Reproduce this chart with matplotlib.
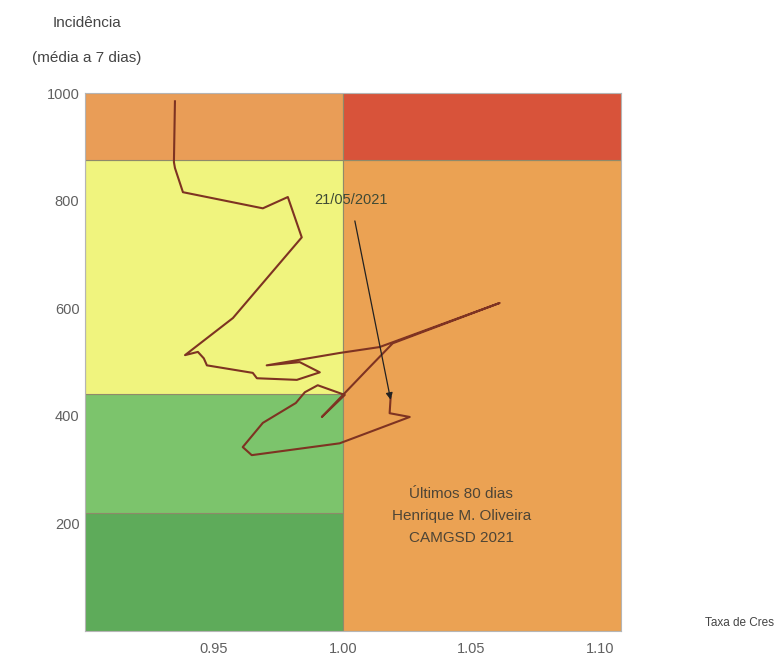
import matplotlib
matplotlib.use("Agg")
import matplotlib.pyplot as plt

plt.rcParams['font.family'] = ['Liberation Sans', 'DejaVu Sans']

# risk matrix zones (growth rate split at 1.00)
x_min, x_split, x_max = 0.90, 1.00, 1.108
y_left = [0, 220, 440, 875, 1000]
c_left = ['#5eab5a', '#7cc46c', '#f0f47e', '#e99d57']
y_right = [0, 875, 1000]
c_right = ['#eba253', '#d8533a']

# trajectory of the last 80 days (growth rate, 7-day mean incidence)
rate = [0.9349, 0.9345, 0.9349, 0.9380, 0.9690, 0.9787, 0.9841, 0.9574, 0.9388,
        0.9438, 0.9461, 0.9473, 0.9651, 0.9667, 0.9822, 0.9911, 0.9833, 0.9705,
        0.9988, 1.0143, 1.0609, 1.0194, 1.0093, 1.0027, 0.9919, 1.0008, 0.9903,
        0.9853, 0.9818, 0.9690, 0.9612, 0.9647, 0.9988, 1.0260, 1.0182, 1.0186]
incid = [985, 872, 861, 816, 786, 807, 732, 582, 513,
         519, 507, 494, 480, 470, 467, 481, 500, 494,
         517, 528, 610, 535, 485, 452, 398, 439, 457,
         444, 424, 387, 342, 327, 349, 398, 405, 435]

xticks = [0.95, 1.00, 1.05, 1.10]
yticks = [200, 400, 600, 800, 1000]

fig = plt.figure(figsize=(7.77, 6.59), dpi=100)
ax = fig.add_axes([0.1094, 0.0425, 0.6899, 0.8160])

for lo, hi, c in zip(y_left[:-1], y_left[1:], c_left):
    ax.fill_between([x_min, x_split], lo, hi, color=c, edgecolor='#8f8a6a', lw=0.8)
for lo, hi, c in zip(y_right[:-1], y_right[1:], c_right):
    ax.fill_between([x_split, x_max], lo, hi, color=c, edgecolor='#8f8a6a', lw=0.8)

ax.plot(rate, incid, color='#7e3322', lw=1.5)

ax.annotate('21/05/2021', xy=(rate[-1], incid[-1] - 5), xytext=(1.0031, 801),
            ha='center', va='center', fontsize=10.5, color='#3f4a35',
            arrowprops=dict(arrowstyle='-|>', color='#222222', lw=0.9,
                            mutation_scale=10, shrinkA=8, shrinkB=0))

ax.text(1.046, 214, 'Últimos 80 dias\nHenrique M. Oliveira\nCAMGSD 2021',
        ha='center', va='center', fontsize=11, color='#4e4536', linespacing=1.75)

ax.set_xlim(x_min, x_max)
ax.set_ylim(0, 1000)
ax.set_xticks(xticks)
ax.set_xticklabels(['%.2f' % v for v in xticks])
ax.set_yticks(yticks)
ax.tick_params(length=0, labelsize=10.5, labelcolor='#606060')
ax.tick_params(axis='x', pad=8)
ax.tick_params(axis='y', pad=4)
for s in ax.spines.values():
    s.set_color('#b5b5b5')
    s.set_linewidth(0.8)

fig.text(0.112, 0.965, 'Incidência', ha='center', va='center', fontsize=11, color='#444444')
fig.text(0.112, 0.912, '(média a 7 dias)', ha='center', va='center', fontsize=11, color='#444444')
fig.text(0.996, 0.055, 'Taxa de Cres', ha='right', va='center', fontsize=8.5, color='#444444')

fig.savefig('out.png', dpi=100)
